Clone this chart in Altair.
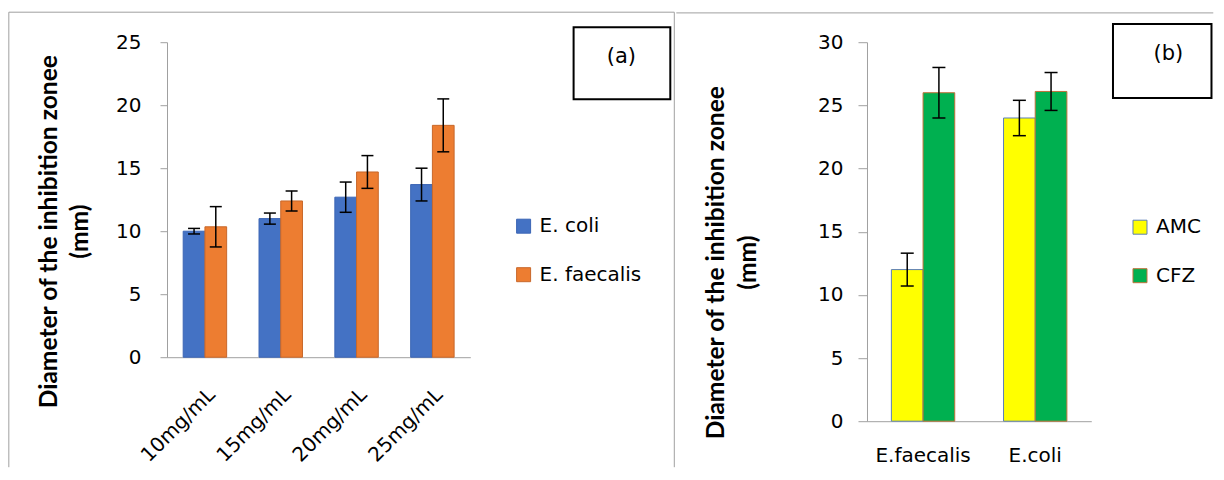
import altair as alt
import pandas as pd

# ---------------- data ----------------
cats_a = ["10mg/mL", "15mg/mL", "20mg/mL", "25mg/mL"]
series_a = ["E. coli", "E. faecalis"]
ecoli = [10.0, 11.0, 12.7, 13.7]
ecoli_err = [0.22, 0.44, 1.2, 1.3]
efaecalis = [10.35, 12.4, 14.7, 18.4]
efaecalis_err = [1.6, 0.8, 1.3, 2.1]

cats_b = ["E.faecalis", "E.coli"]
series_b = ["AMC", "CFZ"]
amc = [12.0, 24.0]
amc_err = [1.3, 1.4]
cfz = [26.0, 26.1]
cfz_err = [2.0, 1.5]

ticks_a = [0, 5, 10, 15, 20, 25]
ticks_b = [0, 5, 10, 15, 20, 25, 30]
ytitle = ["Diameter of the inhibition zonee", "(mm)"]


def build(cats, series, vals, errs, cname, sname):
    rows = []
    for s, v, e in zip(series, vals, errs):
        for c, vv, ee in zip(cats, v, e):
            rows.append({cname: c, sname: s, "val": vv, "lo": vv - ee, "hi": vv + ee})
    return pd.DataFrame(rows)


df_a = build(cats_a, series_a, [ecoli, efaecalis], [ecoli_err, efaecalis_err], "cat_a", "ser_a")
df_b = build(cats_b, series_b, [amc, cfz], [amc_err, cfz_err], "cat_b", "ser_b")

FONT = "DejaVu Sans"
TFONT = "Lato"
GRAY = "#A0A0A0"


def frame_h(x, x2, y):
    return alt.Chart(alt.Data(values=[{}])).mark_rule(color=GRAY, strokeWidth=1).encode(
        x=alt.value(x), x2=alt.value(x2), y=alt.value(y))


def frame_v(x, y, y2):
    return alt.Chart(alt.Data(values=[{}])).mark_rule(color=GRAY, strokeWidth=1).encode(
        x=alt.value(x), y=alt.value(y), y2=alt.value(y2))


def label_box(x, x2, y, y2, txt, tx, ty):
    box = alt.Chart(alt.Data(values=[{}])).mark_rect(fill="white", stroke="black", strokeWidth=2).encode(
        x=alt.value(x), x2=alt.value(x2), y=alt.value(y), y2=alt.value(y2))
    t = alt.Chart(alt.Data(values=[{}])).mark_text(
        text=txt, font=FONT, fontSize=21, align="center", baseline="middle", color="black"
    ).encode(x=alt.value(tx), y=alt.value(ty))
    return [box, t]


def panel(df, cats, series, cname, sname, ymax, yticks, fills, strokes, pad,
          xaxis, tick_size, lab_pad, title_x, title_y, legx, legy, capw):
    xscale = alt.Scale(type="band", paddingInner=pad, paddingOuter=pad / 2)
    oscale = alt.Scale(type="band", paddingInner=0, paddingOuter=0)

    def xs(axis=None):
        if axis is None:
            return alt.X(f"{cname}:N", sort=cats, scale=xscale)
        return alt.X(f"{cname}:N", sort=cats, scale=xscale, axis=axis)

    def xo():
        return alt.XOffset(f"{sname}:N", sort=series, scale=oscale)

    leg = alt.Legend(orient="none", legendX=legx, legendY=legy, title=None, direction="vertical",
                     padding=0, labelFont=FONT, labelFontSize=20, labelColor="black",
                     symbolType="square", symbolSize=196, symbolStrokeWidth=1, rowPadding=28.5,
                     labelOffset=6)
    yaxis = alt.Axis(values=yticks, grid=False, labelFont=FONT, labelFontSize=20, labelColor="black",
                     tickSize=tick_size, tickColor=GRAY, domainColor=GRAY, labelPadding=lab_pad,
                     title=ytitle, titleFont=TFONT, titleFontSize=24.6, titleFontWeight="bold",
                     titleColor="black", titleAngle=270, titleX=title_x, titleY=title_y,
                     titleAlign="center", titleBaseline="middle", titleLineHeight=32)
    bars = alt.Chart(df).mark_bar(strokeWidth=1).encode(
        x=xs(xaxis), xOffset=xo(),
        y=alt.Y("val:Q", scale=alt.Scale(domain=[0, ymax], nice=False), axis=yaxis),
        fill=alt.Fill(f"{sname}:N", sort=series, scale=alt.Scale(domain=series, range=fills), legend=leg),
        stroke=alt.Stroke(f"{sname}:N", sort=series, scale=alt.Scale(domain=series, range=strokes), legend=leg),
    )
    rule = alt.Chart(df).mark_rule(color="black", strokeWidth=1.5).encode(
        x=xs(), xOffset=xo(), y="lo:Q", y2="hi:Q")
    cap_lo = alt.Chart(df).mark_tick(color="black", thickness=1.5, size=capw, opacity=1).encode(
        x=xs(), xOffset=xo(), y="lo:Q")
    cap_hi = alt.Chart(df).mark_tick(color="black", thickness=1.5, size=capw, opacity=1).encode(
        x=xs(), xOffset=xo(), y="hi:Q")
    return [bars, rule, cap_lo, cap_hi]


# ---------------- panel (a) ----------------
W1, H1 = 303.3, 315
xaxis_a = alt.Axis(title=None, labelAngle=-45, labelAlign="right", labelBaseline="middle",
                   labelFont=FONT, labelFontSize=20, labelColor="black", ticks=False, tickSize=0,
                   domainColor=GRAY, labelPadding=34, labelOffset=7)
layers_a = panel(df_a, cats_a, series_a, "cat_a", "ser_a", 25, ticks_a,
                 ["#4472C4", "#ED7D31"], ["#3B65B5", "#C8672A"], 0.427,
                 xaxis_a, 7, 19, -118, 189, 346.6, 174, 12)
deco_a = [frame_h(-158.2, 507.3, -30), frame_v(-158.2, -30, 425), frame_v(507.3, -30, 425)]
deco_a += label_box(406.6, 503.3, -15, 57, "(a)", 454.3, 15.3)
chart_a = alt.layer(*deco_a, *layers_a).properties(width=W1, height=H1)

# ---------------- panel (b) ----------------
W2, H2 = 224.3, 379
xaxis_b = alt.Axis(title=None, labelAngle=0, labelAlign="center", labelBaseline="top",
                   labelFont=FONT, labelFontSize=20, labelColor="black", ticks=False, tickSize=0,
                   domainColor=GRAY, labelPadding=24)
layers_b = panel(df_b, cats_b, series_b, "cat_b", "ser_b", 30, ticks_b,
                 ["#FFFF00", "#00B050"], ["#5B7DB8", "#C0703A"], 0.435,
                 xaxis_b, 9, 15, -150.7, 220, 263, 175, 13)
deco_b = [frame_h(-190.7, 346.3, -29.3)]
deco_b += label_box(246, 344.5, -18.3, 55.7, "(b)", 301.3, 12)
chart_b = alt.layer(*deco_b, *layers_b).properties(width=W2, height=H2)

chart = alt.hconcat(chart_a, chart_b, spacing=0).resolve_scale(
    fill="independent", stroke="independent", x="independent", y="independent",
    xOffset="independent"
).resolve_legend(fill="independent", stroke="independent").properties(
    padding={"left": 0, "top": 3.2, "right": 0, "bottom": 0}
).configure_view(stroke=None)

chart.save("out.html", embed_options={"renderer": "svg", "actions": False})
